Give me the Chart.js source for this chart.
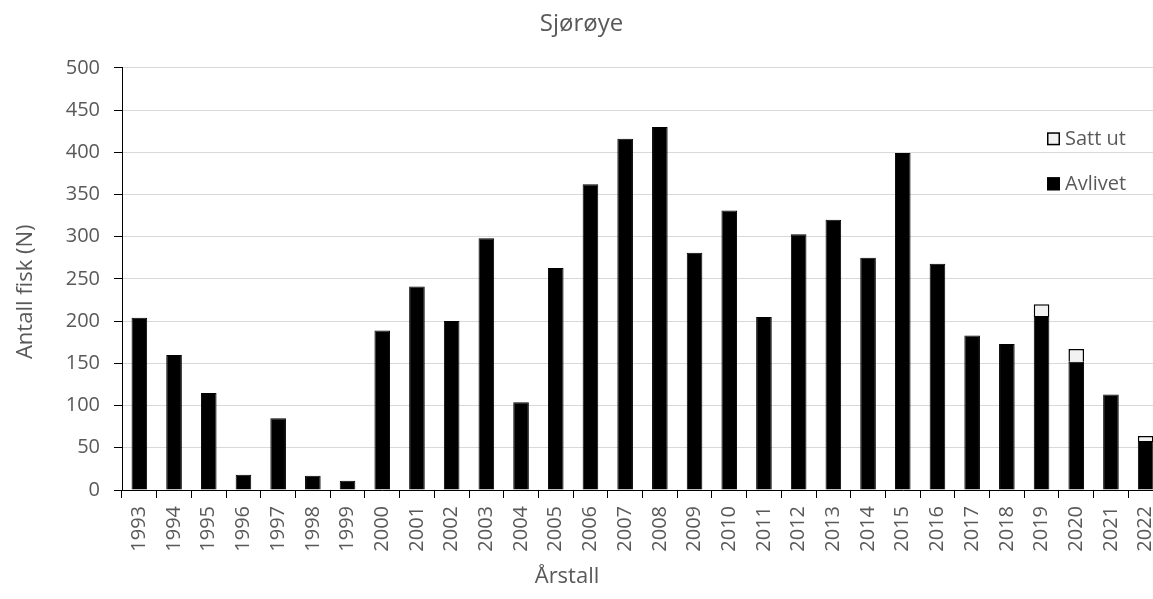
<!DOCTYPE html>
<html lang="no">
<head>
  <meta charset="UTF-8" />
  <title>Sjørøye</title>
  <script src="https://cdn.jsdelivr.net/npm/chart.js"></script>
  <style>
    html, body {
      margin: 0;
      padding: 0;
      background: #ffffff;
      overflow: hidden;
    }
    #chart {
      display: block;
    }
  </style>
</head>
<body>
  <canvas id="chart" width="1165" height="599"></canvas>

  <script>
    const years = ['1993', '1994', '1995', '1996', '1997', '1998', '1999', '2000', '2001', '2002',
      '2003', '2004', '2005', '2006', '2007', '2008', '2009', '2010', '2011', '2012',
      '2013', '2014', '2015', '2016', '2017', '2018', '2019', '2020', '2021', '2022'];

    const avlivet = [204, 160, 115, 18, 85, 17, 11, 189, 241, 200,
      298, 104, 263, 362, 416, 430, 281, 331, 205, 303,
      320, 275, 399, 268, 183, 173, 206, 152, 113, 58];

    const sattUt = [null, null, null, null, null, null, null, null, null, null,
      null, null, null, null, null, null, null, null, null, null,
      null, null, null, null, null, null, 14, 15, null, 6];

    const yTicks = [0, 50, 100, 150, 200, 250, 300, 350, 400, 450, 500];

    const xTitle = 'Årstall';
    const yTitle = 'Antall fisk (N)';

    const textColor = '#595959';
    const fontFamily = "'Open Sans', sans-serif";

    // legend inside the plot (upper right, Satt ut on top) and the two axis titles,
    // which sit a bit off-centre in the original
    const extras = {
      id: 'extras',
      afterDraw(chart) {
        const ctx = chart.ctx;
        const area = chart.chartArea;
        ctx.save();

        ctx.font = '20px ' + fontFamily;
        ctx.textBaseline = 'middle';
        ctx.textAlign = 'left';
        const items = chart.data.datasets.slice().reverse();
        items.forEach((ds, i) => {
          const x = area.right - 116;
          const y = area.top + 71 + i * 45;
          ctx.fillStyle = ds.backgroundColor;
          ctx.fillRect(x, y - 6.5, 13, 13);
          ctx.strokeStyle = ds.borderColor;
          ctx.lineWidth = 1.5;
          ctx.strokeRect(x + 0.75, y - 5.75, 11.5, 11.5);
          ctx.fillStyle = textColor;
          ctx.fillText(ds.label, x + 18, y);
        });

        ctx.font = '22px ' + fontFamily;
        ctx.fillStyle = textColor;
        ctx.textAlign = 'center';
        ctx.fillText(xTitle, area.left + 445, area.bottom + 87);

        ctx.translate(26, area.top + 224);
        ctx.rotate(-Math.PI / 2);
        ctx.fillText(yTitle, 0, 0);

        ctx.restore();
      }
    };

    new Chart(document.getElementById('chart').getContext('2d'), {
      type: 'bar',
      data: {
        labels: years,
        datasets: [
          {
            label: 'Avlivet',
            data: avlivet,
            backgroundColor: '#000000',
            borderColor: '#000000',
            borderWidth: 1,
            barPercentage: 0.9,
            categoryPercentage: 0.5
          },
          {
            label: 'Satt ut',
            data: sattUt,
            backgroundColor: '#f2f2f2',
            borderColor: '#000000',
            borderWidth: 1.5,
            barPercentage: 0.9,
            categoryPercentage: 0.5
          }
        ]
      },
      options: {
        responsive: false,
        animation: false,
        layout: { padding: { left: 0, right: 2, top: 0, bottom: 7 } },
        plugins: {
          legend: { display: false },
          tooltip: { enabled: false },
          title: {
            display: true,
            text: 'Sjørøye',
            color: textColor,
            font: { family: fontFamily, size: 24, weight: 'normal' },
            padding: { top: 10, bottom: 29 }
          }
        },
        scales: {
          x: {
            stacked: true,
            border: { display: true, color: '#000000', width: 1 },
            grid: {
              drawOnChartArea: false,
              drawTicks: true,
              tickLength: 8,
              tickColor: '#000000',
              color: '#000000'
            },
            ticks: {
              color: textColor,
              font: { family: fontFamily, size: 20 },
              minRotation: 90,
              maxRotation: 90,
              padding: 8,
              autoSkip: false
            },
            afterFit(scale) {
              scale.height = 102;
              scale.paddingLeft = 0;
              scale.paddingRight = 0;
            }
          },
          y: {
            stacked: true,
            min: 0,
            max: 500,
            border: { display: true, color: '#000000', width: 1 },
            grid: {
              color: '#d9d9d9',
              lineWidth: 1,
              tickLength: 8,
              tickColor: '#000000'
            },
            afterBuildTicks(scale) {
              scale.ticks = yTicks.map(v => ({ value: v }));
            },
            ticks: {
              color: textColor,
              font: { family: fontFamily, size: 20 },
              padding: 14
            },
            afterFit(scale) {
              scale.width = 122;
            }
          }
        }
      },
      plugins: [extras]
    });
  </script>
</body>
</html>
